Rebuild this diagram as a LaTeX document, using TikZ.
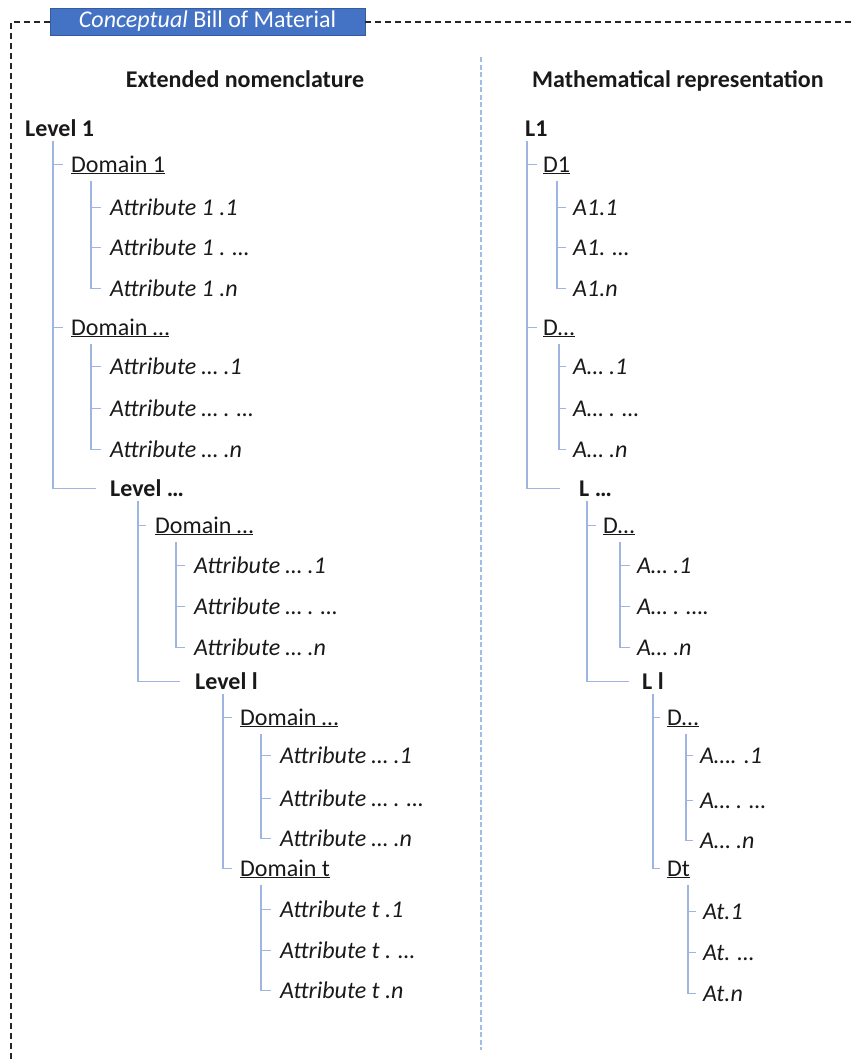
\documentclass[tikz,border=0pt]{standalone}
\usepackage{fontspec}
\setmainfont{Carlito}
\begin{document}
\begin{tikzpicture}[x=1pt,y=-1pt,
  tree/.style={draw=treeblue, line width=1.1pt},
  lab/.style={anchor=base west, inner sep=0pt, font=\fontsize{24}{28}\selectfont, text=black!90},
  lvl/.style={lab, font=\fontsize{24}{28}\selectfont\bfseries},
  att/.style={lab, font=\fontsize{24}{28}\selectfont\itshape},
  hdr/.style={anchor=base, inner sep=0pt, font=\fontsize{24}{28}\selectfont\bfseries, text=black!90},
  frame/.style={draw=black!85, line width=1.3pt, dash pattern=on 6pt off 4pt},
  sep/.style={draw=sepblue, line width=1.1pt, dash pattern=on 5pt off 2.5pt}]
\definecolor{treeblue}{HTML}{9DB5E0}
\definecolor{sepblue}{HTML}{A4BDE8}
\definecolor{titleblue}{HTML}{4472C4}
\useasboundingbox (0,0) rectangle (853,1063);
\newcommand\conn[5]{\draw[tree] ([xshift=#2pt,yshift=-#3pt]#1.base west) |- ([xshift=-#4pt,yshift=7.5pt]#5.base west);}

% frame and title
\node[fill=titleblue, draw=titleblue!80!black, line width=0.6pt, minimum width=315pt, minimum height=27pt, inner sep=0pt, text=white, font=\fontsize{24}{28}\selectfont, anchor=center] (title) at (207.5,21.5) {\textit{Conceptual} Bill of Material};
\coordinate (fbl) at (11,1063);
\coordinate (ftr) at (853,22);
\draw[frame] (title.west |- ftr) -- (fbl |- ftr) -- (fbl);
\draw[frame] (title.east |- ftr) -- (ftr);

% headers and separator
\node[hdr] (h1) at (245,87) {Extended nomenclature};
\node[hdr] (h2) at (678,87) {Mathematical representation};
\coordinate (s1) at (481,57);
\coordinate (s2) at (481,1050);
\draw[sep] (s1) -- (s2);

% ---------- left tree ----------
\node[lvl] (L1) at (25,136) {Level 1};
\node[lab] (D1) at (71,172) {\underline{Domain 1}};
\node[att] (A11) at (110,215) {Attribute 1 .1};
\node[att] (A12) at (110,255) {Attribute 1 . …};
\node[att] (A1n) at (110,296) {Attribute 1 .n};
\node[lab] (D2) at (71,335) {\underline{Domain …}};
\node[att] (A21) at (110,374) {Attribute … .1};
\node[att] (A22) at (110,416) {Attribute … . …};
\node[att] (A2n) at (110,457) {Attribute … .n};
\node[lvl] (L2) at (110,496) {Level …};
\node[lab] (D3) at (155,533) {\underline{Domain …}};
\node[att] (A31) at (194,573) {Attribute … .1};
\node[att] (A32) at (194,614) {Attribute … . …};
\node[att] (A3n) at (194,655) {Attribute … .n};
\node[lvl] (L3) at (195,689) {Level l};
\node[lab] (D4) at (240,725) {\underline{Domain …}};
\node[att] (A41) at (280,763) {Attribute … .1};
\node[att] (A42) at (280,806) {Attribute … . …};
\node[att] (A4n) at (280,846) {Attribute … .n};
\node[lab] (D5) at (240,876) {\underline{Domain t}};
\node[att] (A51) at (280,917) {Attribute t .1};
\node[att] (A52) at (280,958) {Attribute t . …};
\node[att] (A5n) at (280,998) {Attribute t .n};

\conn{L1}{28}{5}{8}{D1}
\conn{L1}{28}{5}{8}{D2}
\conn{L1}{28}{5}{14}{L2}
\conn{D1}{20}{9}{9}{A11}
\conn{D1}{20}{9}{9}{A12}
\conn{D1}{20}{9}{9}{A1n}
\conn{D2}{20}{9}{9}{A21}
\conn{D2}{20}{9}{9}{A22}
\conn{D2}{20}{9}{9}{A2n}
\conn{L2}{28}{5}{9}{D3}
\conn{L2}{28}{5}{15}{L3}
\conn{D3}{21}{9}{9}{A31}
\conn{D3}{21}{9}{9}{A32}
\conn{D3}{21}{9}{9}{A3n}
\conn{L3}{28}{5}{8}{D4}
\conn{L3}{28}{5}{8}{D5}
\conn{D4}{21}{9}{9}{A41}
\conn{D4}{21}{9}{9}{A42}
\conn{D4}{21}{9}{9}{A4n}
\conn{D5}{21}{9}{9}{A51}
\conn{D5}{21}{9}{9}{A52}
\conn{D5}{21}{9}{9}{A5n}

% ---------- right tree ----------
\node[lvl] (r1) at (525,136) {L1};
\node[lab] (rD1) at (543,172) {\underline{D1}};
\node[att] (rA11) at (573,215) {A1.1};
\node[att] (rA12) at (573,255) {A1. …};
\node[att] (rA1n) at (573,296) {A1.n};
\node[lab] (rD2) at (543,335) {\underline{D…}};
\node[att] (rA21) at (573,374) {A… .1};
\node[att] (rA22) at (573,416) {A… . …};
\node[att] (rA2n) at (573,457) {A… .n};
\node[lvl] (r2) at (579,496) {L …};
\node[lab] (rD3) at (603,533) {\underline{D…}};
\node[att] (rA31) at (637,573) {A… .1};
\node[att] (rA32) at (637,614) {A… . ….};
\node[att] (rA3n) at (637,655) {A… .n};
\node[lvl] (r3) at (642,689) {L l};
\node[lab] (rD4) at (667,725) {\underline{D…}};
\node[att] (rA41) at (700,763) {A…. .1};
\node[att] (rA42) at (700,808) {A… . …};
\node[att] (rA4n) at (700,848) {A… .n};
\node[lab] (rD5) at (667,876) {\underline{Dt}};
\node[att] (rA51) at (703,919) {At.1};
\node[att] (rA52) at (703,960) {At. …};
\node[att] (rA5n) at (703,1001) {At.n};

\conn{r1}{2}{5}{6}{rD1}
\conn{r1}{2}{5}{6}{rD2}
\conn{r1}{2}{5}{19}{r2}
\conn{rD1}{14}{9}{7}{rA11}
\conn{rD1}{14}{9}{7}{rA12}
\conn{rD1}{14}{9}{7}{rA1n}
\conn{rD2}{16}{9}{7}{rA21}
\conn{rD2}{16}{9}{7}{rA22}
\conn{rD2}{16}{9}{7}{rA2n}
\conn{r2}{8}{5}{7}{rD3}
\conn{r2}{8}{5}{13}{r3}
\conn{rD3}{17}{9}{7}{rA31}
\conn{rD3}{17}{9}{7}{rA32}
\conn{rD3}{17}{9}{7}{rA3n}
\conn{r3}{11}{5}{7}{rD4}
\conn{r3}{11}{5}{7}{rD5}
\conn{rD4}{19}{9}{7}{rA41}
\conn{rD4}{19}{9}{7}{rA42}
\conn{rD4}{19}{9}{7}{rA4n}
\conn{rD5}{21}{9}{7}{rA51}
\conn{rD5}{21}{9}{7}{rA52}
\conn{rD5}{21}{9}{7}{rA5n}
\end{tikzpicture}
\end{document}
